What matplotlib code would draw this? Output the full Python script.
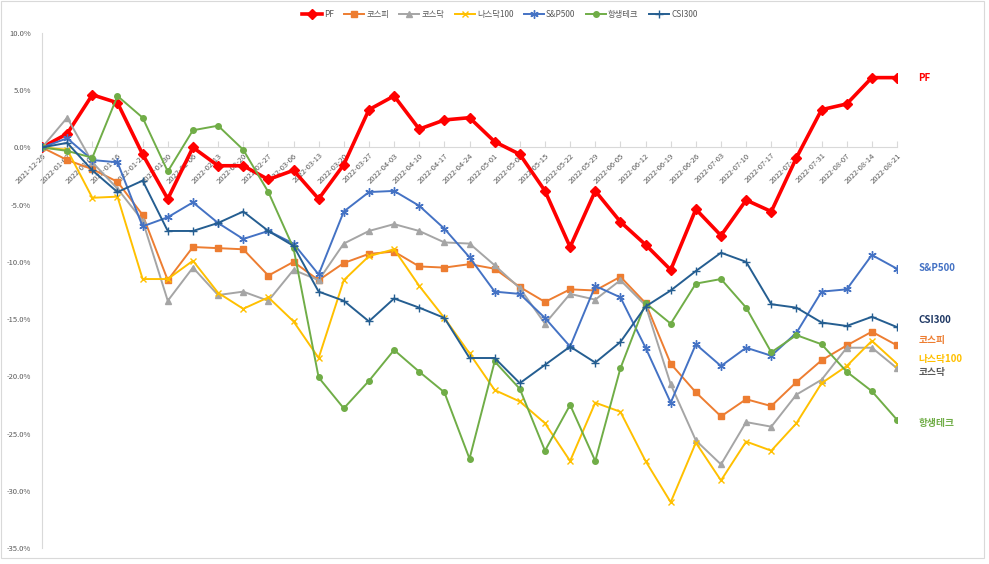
import matplotlib.pyplot as plt
from matplotlib.patches import Rectangle
from matplotlib.ticker import FuncFormatter, MultipleLocator

plt.rcParams['font.family'] = ['Noto Sans CJK KR', 'DejaVu Sans']
plt.rcParams['axes.unicode_minus'] = False

dates = ['2021-12-26', '2022-01-02', '2022-01-09', '2022-01-16', '2022-01-23', '2022-01-30',
         '2022-02-06', '2022-02-13', '2022-02-20', '2022-02-27', '2022-03-06', '2022-03-13',
         '2022-03-20', '2022-03-27', '2022-04-03', '2022-04-10', '2022-04-17', '2022-04-24',
         '2022-05-01', '2022-05-08', '2022-05-15', '2022-05-22', '2022-05-29', '2022-06-05',
         '2022-06-12', '2022-06-19', '2022-06-26', '2022-07-03', '2022-07-10', '2022-07-17',
         '2022-07-24', '2022-07-31', '2022-08-07', '2022-08-14', '2022-08-21']

# 주간 누적 수익률 (%)
pf = [0.0, 1.2, 4.6, 3.9, -0.6, -4.5, 0.0, -1.6, -1.6, -2.8, -2.0, -4.5, -1.5, 3.3, 4.5,
      1.6, 2.4, 2.6, 0.5, -0.6, -3.8, -8.7, -3.8, -6.5, -8.5, -10.7, -5.4, -7.7, -4.6,
      -5.6, -0.9, 3.3, 3.8, 6.1, 6.1]
kospi = [0.0, -1.1, -1.9, -3.0, -5.9, -11.6, -8.7, -8.8, -8.9, -11.2, -10.0, -11.6, -10.1,
         -9.3, -9.1, -10.4, -10.5, -10.2, -10.6, -12.2, -13.5, -12.4, -12.5, -11.3, -13.6,
         -18.9, -21.4, -23.5, -22.0, -22.6, -20.5, -18.6, -17.3, -16.1, -17.3]
kosdaq = [0.0, 2.6, -1.3, -3.6, -6.4, -13.4, -10.5, -12.9, -12.6, -13.4, -10.7, -11.6, -8.4,
          -7.3, -6.7, -7.3, -8.3, -8.4, -10.3, -12.3, -15.4, -12.8, -13.3, -11.6, -13.8,
          -20.7, -25.6, -27.7, -24.0, -24.4, -21.6, -20.3, -17.5, -17.5, -19.3]
nasdaq100 = [0.0, -0.2, -4.4, -4.3, -11.5, -11.5, -9.9, -12.7, -14.1, -13.1, -15.2, -18.4,
             -11.6, -9.5, -8.9, -12.1, -14.9, -18.0, -21.2, -22.2, -24.1, -27.4, -22.3,
             -23.1, -27.4, -31.0, -25.8, -29.1, -25.7, -26.5, -24.1, -20.6, -19.1, -16.9, -18.9]
sp500 = [0.0, 0.8, -1.1, -1.3, -6.9, -6.1, -4.8, -6.6, -8.0, -7.3, -8.4, -11.1, -5.6, -3.9,
         -3.8, -5.1, -7.1, -9.6, -12.6, -12.8, -14.9, -17.4, -12.1, -13.1, -17.5, -22.3,
         -17.2, -19.1, -17.5, -18.2, -16.2, -12.6, -12.4, -9.4, -10.6]
hstech = [0.0, -0.3, -0.9, 4.5, 2.6, -2.1, 1.5, 1.9, -0.2, -3.9, -8.8, -20.1, -22.8, -20.4,
          -17.7, -19.6, -21.4, -27.2, -18.7, -21.1, -26.5, -22.5, -27.4, -19.3, -13.6,
          -15.4, -11.9, -11.5, -14.0, -17.9, -16.4, -17.2, -19.6, -21.3, -23.8]
csi300 = [0.0, 0.4, -2.0, -3.9, -2.9, -7.3, -7.3, -6.6, -5.6, -7.3, -8.6, -12.6, -13.4,
          -15.2, -13.2, -14.0, -14.9, -18.4, -18.4, -20.6, -19.0, -17.4, -18.8, -17.0,
          -13.9, -12.5, -10.8, -9.2, -10.0, -13.7, -14.0, -15.3, -15.6, -14.8, -15.7]

series = [
    ('PF', pf, '#FF0000', 'D', 5, 2.6),
    ('코스피', kospi, '#ED7D31', 's', 4, 1.4),
    ('코스닥', kosdaq, '#A5A5A5', '^', 4.5, 1.4),
    ('나스닥100', nasdaq100, '#FFC000', 'x', 5, 1.4),
    ('S&P500', sp500, '#4472C4', (6, 2, 0), 6, 1.4),
    ('항생테크', hstech, '#70AD47', 'o', 4, 1.4),
    ('CSI300', csi300, '#255E91', '+', 6, 1.4),
]

# 오른쪽 라벨 위치 (y, %)
end_labels = [('PF', 6.1), ('S&P500', -10.5), ('CSI300', -15.1), ('코스피', -16.8),
              ('나스닥100', -18.5), ('코스닥', -19.6), ('항생테크', -24.1)]
label_colors = {'PF': '#FF0000', '코스피': '#ED7D31', '코스닥': '#595959',
                '나스닥100': '#FFC000', 'S&P500': '#4472C4', '항생테크': '#70AD47',
                'CSI300': '#1F3864'}

fig = plt.figure(figsize=(9.89, 5.64), dpi=100)
fig.patch.set_facecolor('white')
fig.patches.append(Rectangle((0.001, 0.0106), 0.994, 0.987, transform=fig.transFigure,
                             fill=False, edgecolor='#D9D9D9', lw=0.8))

ax = fig.add_axes([0.0425, 0.0284, 0.8645, 0.9131])
x = list(range(len(dates)))
for name, vals, c, m, ms, lw in series:
    kw = dict(markerfacecolor=c, markeredgecolor=c)
    if m in ('x', '+') or isinstance(m, tuple):
        kw['markeredgewidth'] = 1.0
    ax.plot(x, vals, color=c, lw=lw, marker=m, markersize=ms, label=name, zorder=3, **kw)

ax.set_xlim(0, len(dates) - 1)
ax.set_ylim(-35, 10)
ax.yaxis.set_major_locator(MultipleLocator(5))
ax.yaxis.set_major_formatter(FuncFormatter(lambda v, p: f'{v:.1f}%'))
ax.tick_params(axis='y', length=0, labelsize=5.5, labelcolor='#595959', pad=8)

for s in ['top', 'right']:
    ax.spines[s].set_visible(False)
ax.spines['left'].set_color('#D9D9D9')
ax.spines['bottom'].set_color('#D9D9D9')
ax.spines['bottom'].set_position(('data', 0))
ax.set_xticks(x)
ax.set_xticklabels(dates, rotation=45, ha='right', va='top', rotation_mode='anchor',
                   fontsize=5.5, color='#595959')
ax.tick_params(axis='x', direction='in', length=4, color='#D9D9D9', pad=3)
ax.patch.set_alpha(0)

for name, yv in end_labels:
    ax.text(len(dates) - 1 + 0.85, yv, name, color=label_colors[name], fontsize=7,
            fontweight='bold', va='center', ha='left', clip_on=False)

fig.legend(loc='upper center', bbox_to_anchor=(0.505, 0.995), ncol=7, frameon=False,
           fontsize=6, handlelength=2.4, columnspacing=1.2, handletextpad=0.3,
           labelcolor='#595959')

fig.savefig('out.png', dpi=100, facecolor='white')
